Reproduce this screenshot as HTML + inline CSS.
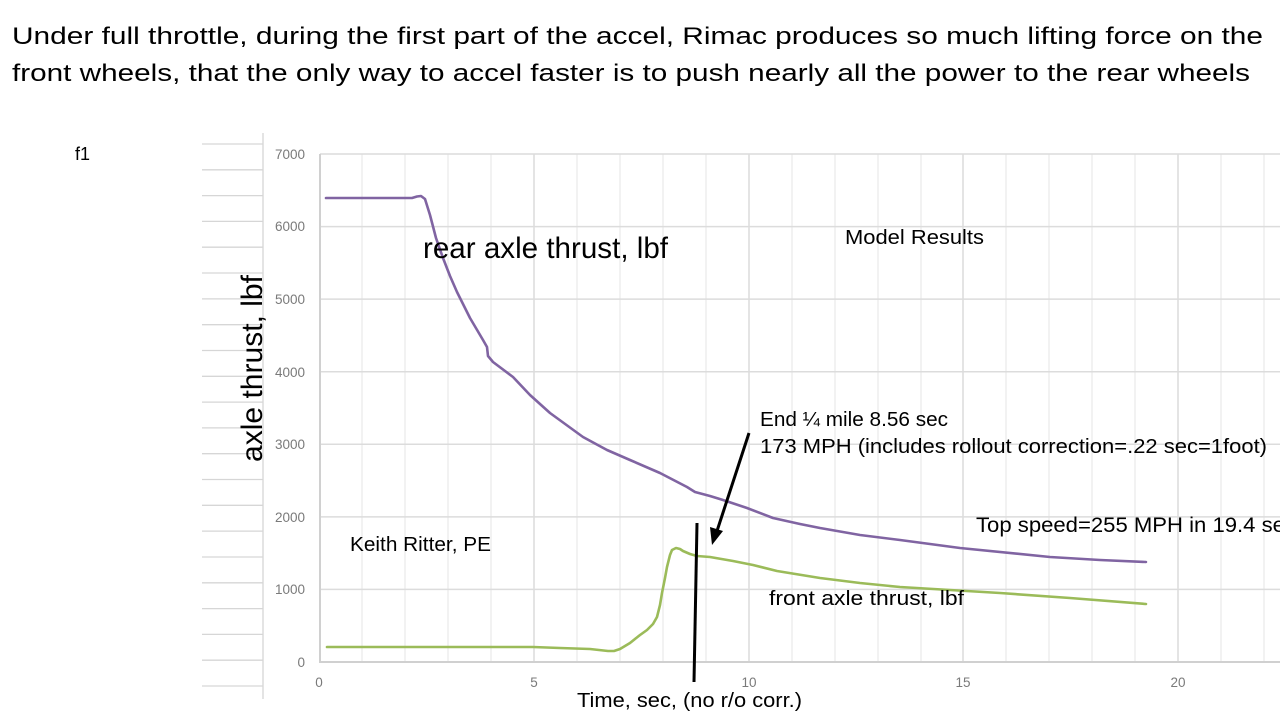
<!DOCTYPE html>
<html>
<head>
<meta charset="utf-8">
<style>
html,body{margin:0;padding:0;background:#fff;}
svg{display:block;}
text{font-family:"Liberation Sans",Arial,sans-serif;}
</style>
</head>
<body>
<svg width="1280" height="720" viewBox="0 0 1280 720" xmlns="http://www.w3.org/2000/svg">
<rect width="1280" height="720" fill="#fff"/>

<!-- Title -->
<text x="12" y="44" font-size="24.5" fill="#000" textLength="1251" lengthAdjust="spacingAndGlyphs">Under full throttle, during the first part of the accel, Rimac  produces so much lifting force on the</text>
<text x="12" y="81" font-size="24.5" fill="#000" textLength="1238" lengthAdjust="spacingAndGlyphs">front wheels, that the only way to accel faster is to push  nearly all the power to the rear wheels</text>

<text x="75" y="160" font-size="18" fill="#000">f1</text>

<!-- spreadsheet-like lines on left -->
<g stroke="#d6d6d6" stroke-width="1.3">
<line x1="263" y1="133" x2="263" y2="699"/>
<line x1="202" y1="144" x2="263" y2="144"/>
<line x1="202" y1="169.8" x2="263" y2="169.8"/>
<line x1="202" y1="195.6" x2="263" y2="195.6"/>
<line x1="202" y1="221.4" x2="263" y2="221.4"/>
<line x1="202" y1="247.2" x2="263" y2="247.2"/>
<line x1="202" y1="273" x2="263" y2="273"/>
<line x1="202" y1="298.9" x2="263" y2="298.9"/>
<line x1="202" y1="324.7" x2="263" y2="324.7"/>
<line x1="202" y1="350.5" x2="263" y2="350.5"/>
<line x1="202" y1="376.3" x2="263" y2="376.3"/>
<line x1="202" y1="402.1" x2="263" y2="402.1"/>
<line x1="202" y1="427.9" x2="263" y2="427.9"/>
<line x1="202" y1="453.7" x2="263" y2="453.7"/>
<line x1="202" y1="479.5" x2="263" y2="479.5"/>
<line x1="202" y1="505.3" x2="263" y2="505.3"/>
<line x1="202" y1="531.1" x2="263" y2="531.1"/>
<line x1="202" y1="557" x2="263" y2="557"/>
<line x1="202" y1="582.8" x2="263" y2="582.8"/>
<line x1="202" y1="608.6" x2="263" y2="608.6"/>
<line x1="202" y1="634.4" x2="263" y2="634.4"/>
<line x1="202" y1="660.2" x2="263" y2="660.2"/>
<line x1="202" y1="686" x2="263" y2="686"/>
</g>

<!-- minor vertical gridlines (every 1 s) -->
<g stroke="#ebebeb" stroke-width="1.3">
<line x1="362" y1="154" x2="362" y2="662"/>
<line x1="405" y1="154" x2="405" y2="662"/>
<line x1="448" y1="154" x2="448" y2="662"/>
<line x1="491" y1="154" x2="491" y2="662"/>
<line x1="577" y1="154" x2="577" y2="662"/>
<line x1="620" y1="154" x2="620" y2="662"/>
<line x1="663" y1="154" x2="663" y2="662"/>
<line x1="706" y1="154" x2="706" y2="662"/>
<line x1="792" y1="154" x2="792" y2="662"/>
<line x1="835" y1="154" x2="835" y2="662"/>
<line x1="878" y1="154" x2="878" y2="662"/>
<line x1="921" y1="154" x2="921" y2="662"/>
<line x1="1006" y1="154" x2="1006" y2="662"/>
<line x1="1049" y1="154" x2="1049" y2="662"/>
<line x1="1092" y1="154" x2="1092" y2="662"/>
<line x1="1135" y1="154" x2="1135" y2="662"/>
<line x1="1221" y1="154" x2="1221" y2="662"/>
<line x1="1264" y1="154" x2="1264" y2="662"/>
</g>
<!-- major vertical gridlines -->
<g stroke="#dcdcdc" stroke-width="1.5">
<line x1="534" y1="154" x2="534" y2="662"/>
<line x1="749" y1="154" x2="749" y2="662"/>
<line x1="963" y1="154" x2="963" y2="662"/>
<line x1="1178" y1="154" x2="1178" y2="662"/>
</g>
<!-- horizontal gridlines -->
<g stroke="#dcdcdc" stroke-width="1.5">
<line x1="320" y1="154" x2="1280" y2="154"/>
<line x1="320" y1="226.6" x2="1280" y2="226.6"/>
<line x1="320" y1="299.1" x2="1280" y2="299.1"/>
<line x1="320" y1="371.7" x2="1280" y2="371.7"/>
<line x1="320" y1="444.3" x2="1280" y2="444.3"/>
<line x1="320" y1="516.9" x2="1280" y2="516.9"/>
<line x1="320" y1="589.4" x2="1280" y2="589.4"/>
</g>
<!-- axes -->
<g stroke="#d0d0d0" stroke-width="2">
<line x1="320" y1="154" x2="320" y2="663"/>
<line x1="320" y1="662" x2="1280" y2="662"/>
</g>

<!-- y tick labels -->
<g font-size="13.5" fill="#7a7a7a" text-anchor="end">
<text x="305" y="159">7000</text>
<text x="305" y="231">6000</text>
<text x="305" y="304">5000</text>
<text x="305" y="377">4000</text>
<text x="305" y="449">3000</text>
<text x="305" y="522">2000</text>
<text x="305" y="594">1000</text>
<text x="305" y="667">0</text>
</g>
<!-- x tick labels -->
<g font-size="13.5" fill="#7a7a7a" text-anchor="middle">
<text x="319" y="687">0</text>
<text x="534" y="687">5</text>
<text x="749" y="687">10</text>
<text x="963" y="687">15</text>
<text x="1178" y="687">20</text>
</g>

<!-- series -->
<polyline fill="none" stroke="#8064a2" stroke-width="2.6" stroke-linejoin="round" stroke-linecap="round"
points="326,198 412,198 417,196.5 421,196 425,199 430,215 436,238 443,258 450,276 457,292 470,318 483,340 487,347 488,356 493,362 513,377 530,395 550,413 583,437 607,450 630,460 660,473 687,487 695,492 710,496 723,500 747,508 773,518 800,524 820,528 860,535 900,540 960,548 1050,557 1100,560 1146,562"/>
<polyline fill="none" stroke="#9bbb59" stroke-width="2.6" stroke-linejoin="round" stroke-linecap="round"
points="327,647 533,647 560,648 590,649 608,651 614,651 620,649 630,643 640,635 647,630 653,624 657,617 660,605 662,593 665,578 667,567 670,555 672,550 676,548 680,549 683,551 690,554 697,556 710,557 733,561 753,565 777,571 820,578 860,583 900,587 1000,593 1070,598 1146,604"/>

<!-- black annotation lines -->
<line x1="697" y1="523" x2="694" y2="682" stroke="#000" stroke-width="3"/>
<line x1="749" y1="433" x2="717" y2="531" stroke="#000" stroke-width="3"/>
<polygon points="712,545 710,527 723,531" fill="#000"/>

<!-- annotations -->
<text x="423" y="258" font-size="30" fill="#000" textLength="245" lengthAdjust="spacingAndGlyphs">rear axle thrust, lbf</text>
<text transform="translate(262,462) rotate(-90)" font-size="30" fill="#000" textLength="187" lengthAdjust="spacingAndGlyphs">axle thrust, lbf</text>
<text x="845" y="244" font-size="20.5" fill="#000" textLength="139" lengthAdjust="spacingAndGlyphs">Model Results</text>
<text x="760" y="426" font-size="20.5" fill="#000" textLength="188" lengthAdjust="spacingAndGlyphs">End ¼ mile 8.56 sec</text>
<text x="760" y="453" font-size="20.5" fill="#000" textLength="507" lengthAdjust="spacingAndGlyphs">173 MPH (includes rollout correction=.22 sec=1foot)</text>
<text x="976" y="532" font-size="21" fill="#000" textLength="320" lengthAdjust="spacingAndGlyphs">Top speed=255 MPH in 19.4 sec</text>
<text x="350" y="551" font-size="20.5" fill="#000" textLength="141" lengthAdjust="spacingAndGlyphs">Keith Ritter, PE</text>
<text x="769" y="605" font-size="20.5" fill="#000" textLength="195" lengthAdjust="spacingAndGlyphs">front axle thrust, lbf</text>
<text x="577" y="707" font-size="20.5" fill="#000" textLength="225" lengthAdjust="spacingAndGlyphs">Time, sec, (no r/o corr.)</text>
</svg>
</body>
</html>
